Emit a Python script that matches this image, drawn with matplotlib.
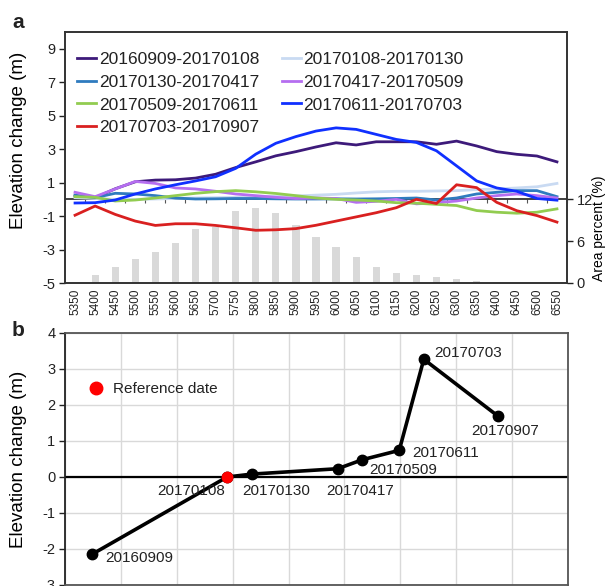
import numpy as np
import pandas as pd
import matplotlib
matplotlib.use("Agg")
import matplotlib.pyplot as plt
from matplotlib.lines import Line2D

plt.rcParams['font.family'] = ['Liberation Sans', 'DejaVu Sans']
plt.rcParams['axes.unicode_minus'] = False
plt.rcParams['text.color'] = '#222222'
plt.rcParams['xtick.color'] = '#222222'
plt.rcParams['ytick.color'] = '#222222'

# ---------------------------------------------------------
# Daten (a): Höhenänderung je Höhenstufe
# ---------------------------------------------------------
elevation = [5350, 5400, 5450, 5500, 5550, 5600, 5650, 5700, 5750, 5800,
             5850, 5900, 5950, 6000, 6050, 6100, 6150, 6200, 6250, 6300,
             6350, 6400, 6450, 6500, 6550]

area_pct = [0.0, 1.2, 2.3, 3.4, 4.5, 5.8, 7.7, 8.1, 10.3, 10.7,
            10.0, 8.3, 6.6, 5.2, 3.7, 2.3, 1.5, 1.1, 0.8, 0.6,
            0.3, 0.2, 0.0, 0.0, 0.0]

dh_0909_0108 = [0.20, 0.10, 0.63, 1.05, 1.15, 1.17, 1.27, 1.50, 1.90, 2.24,
                2.60, 2.85, 3.13, 3.38, 3.25, 3.44, 3.44, 3.44, 3.29, 3.48,
                3.19, 2.85, 2.69, 2.59, 2.24]
dh_0108_0130 = [0.10, 0.05, 0.00, 0.00, 0.02, 0.05, 0.08, 0.10, 0.12, 0.15,
                0.18, 0.20, 0.25, 0.30, 0.38, 0.45, 0.48, 0.48, 0.50, 0.52,
                0.58, 0.62, 0.68, 0.75, 0.95]
dh_0130_0417 = [0.25, 0.10, 0.36, 0.32, 0.22, 0.08, 0.02, 0.03, 0.05, 0.05,
                0.03, 0.02, 0.02, 0.03, 0.02, 0.03, 0.05, 0.08, -0.04, 0.08,
                0.32, 0.42, 0.52, 0.52, 0.16]
dh_0417_0509 = [0.42, 0.16, 0.62, 1.07, 0.95, 0.68, 0.62, 0.48, 0.32, 0.22,
                0.12, 0.05, 0.08, 0.05, -0.18, -0.12, 0.00, -0.27, -0.20, -0.10,
                0.08, 0.22, 0.32, 0.22, 0.08]
dh_0509_0611 = [0.16, 0.12, -0.10, -0.04, 0.08, 0.22, 0.36, 0.46, 0.52, 0.45,
                0.35, 0.22, 0.08, 0.00, -0.04, -0.10, -0.20, -0.23, -0.30, -0.37,
                -0.67, -0.77, -0.83, -0.77, -0.57]
dh_0611_0703 = [-0.22, -0.20, -0.04, 0.32, 0.62, 0.87, 1.10, 1.35, 1.85, 2.70,
                3.35, 3.75, 4.08, 4.27, 4.18, 3.88, 3.58, 3.40, 2.90, 2.00,
                1.10, 0.68, 0.48, 0.05, -0.05]
dh_0703_0907 = [-0.95, -0.40, -0.90, -1.30, -1.56, -1.46, -1.46, -1.56, -1.70, -1.85,
                -1.82, -1.75, -1.55, -1.30, -1.05, -0.80, -0.50, 0.00, -0.25, 0.87,
                0.70, -0.18, -0.68, -0.97, -1.36]

series = [dh_0909_0108, dh_0108_0130, dh_0130_0417, dh_0417_0509,
          dh_0509_0611, dh_0611_0703, dh_0703_0907]
series_labels = ["20160909-20170108", "20170108-20170130", "20170130-20170417",
                 "20170417-20170509", "20170509-20170611", "20170611-20170703",
                 "20170703-20170907"]
series_colors = ["#3d1a7a", "#c9daf2", "#2f7bbf", "#b56ef0",
                 "#92cc50", "#1030ff", "#d92020"]

# ---------------------------------------------------------
# Daten (b): kumulierte Höhenänderung
# ---------------------------------------------------------
dates = ["20160909", "20170108", "20170130", "20170417",
         "20170509", "20170611", "20170703", "20170907"]
cum_dh = [-2.15, 0.0, 0.08, 0.23, 0.48, 0.74, 3.27, 1.70]
ref_date = "20170108"

# Beschriftungs-Versatz (Pixel) und Ausrichtung je Punkt
label_offsets = {
    "20160909": (13, -4, "left"),
    "20170108": (-2, -14, "right"),
    "20170130": (-9, -17, "left"),
    "20170417": (-11, -22, "left"),
    "20170509": (7, -10, "left"),
    "20170611": (13, -3, "left"),
    "20170703": (10, 6, "left"),
    "20170907": (8, -15, "center"),
}

W, H = 608, 586
fig = plt.figure(figsize=(W / 100, H / 100), dpi=100)

# ---------------------------------------------------------
# Panel a
# ---------------------------------------------------------
ax = fig.add_axes([65 / W, 1 - 283 / H, 502 / W, 251 / H])
ax2 = ax.twinx()
x = np.arange(len(elevation))

ax2.bar(x, area_pct, width=0.36, color="#d9d9d9", zorder=1)
ax2.set_ylim(0, 36)
ax2.set_yticks([0, 6, 12])
ax2.tick_params(axis="y", labelsize=10.5, length=4, width=1, pad=3)
ax2.set_ylabel("Area percent (%)", fontsize=10, rotation=90)
ax2.yaxis.set_label_coords(1.05, 0.22)

ax.set_zorder(ax2.get_zorder() + 1)
ax.patch.set_visible(False)

ax.axhline(0, color="#333333", lw=1.3, zorder=1)
for vals, col, lab in zip(series, series_colors, series_labels):
    ax.plot(x, vals, color=col, lw=2.0, label=lab, solid_joinstyle="round")

ax.set_xlim(-0.5, len(elevation) - 0.5)
ax.set_ylim(-5, 10)
ax.set_yticks(np.arange(-5, 10, 2))
ax.set_xticks(x)
ax.set_xticklabels(elevation, rotation=90, fontsize=8.5)
ax.tick_params(axis="x", length=0, pad=4)
ax.tick_params(axis="y", labelsize=10.5, length=4, width=1, pad=3)
ax.set_ylabel("Elevation change (m)", fontsize=13.5)
ax.yaxis.set_label_coords(-0.075, 0.57)

# kleine Striche an der Nulllinie zwischen den Höhenstufen
zero_ax = ax.secondary_xaxis(1 / 3)
zero_ax.set_xticks(np.arange(-0.5, len(elevation), 1))
zero_ax.tick_params(axis="x", length=3, width=0.8, labelbottom=False,
                    labeltop=False, color="#555555")
zero_ax.spines["bottom"].set_visible(False)
zero_ax.spines["top"].set_visible(False)

for a in (ax, ax2):
    for s in a.spines.values():
        s.set_color("#333333")
        s.set_linewidth(1.2)

h, l = ax.get_legend_handles_labels()
order = [0, 2, 4, 6, 1, 3, 5]
ax.legend([h[i] for i in order], [l[i] for i in order], ncol=2,
          loc="upper left", bbox_to_anchor=(0.0, 0.968), frameon=False,
          fontsize=12.5, handlelength=1.1, handletextpad=0.15,
          columnspacing=1.3, labelspacing=0.43, borderaxespad=0.3)

fig.text(12 / W, 1 - 28 / H, "a", fontsize=15, fontweight="bold")

# ---------------------------------------------------------
# Panel b
# ---------------------------------------------------------
bx = fig.add_axes([65 / W, 1 - 585 / H, 503 / W, 252 / H])
t = pd.to_datetime(dates, format="%Y%m%d")
t0 = pd.Timestamp("2016-08-16")
grid_days = [t0 + pd.Timedelta(days=50 * k) for k in range(10)]

bx.set_xlim(grid_days[0], grid_days[-1])
bx.set_ylim(-3, 4)
bx.set_xticks(grid_days)
bx.set_yticks(np.arange(-3, 5, 1))
bx.tick_params(axis="x", length=0, labelbottom=False)
bx.tick_params(axis="y", labelsize=10.5, length=4, width=1, pad=3)
bx.grid(True, color="#d9d9d9", lw=1.0)
bx.set_axisbelow(True)
bx.axhline(0, color="black", lw=1.6, zorder=2)

bx.plot(t, cum_dh, color="black", lw=2.6, marker="o", ms=7.5, zorder=3)
ri = dates.index(ref_date)
bx.plot(t[ri], cum_dh[ri], "o", color="red", ms=7.5, zorder=4)

for d, tt, v in zip(dates, t, cum_dh):
    dx, dy, ha = label_offsets[d]
    bx.annotate(d, (tt, v), xytext=(dx, dy), textcoords="offset pixels",
                ha=ha, va="center", fontsize=11, color="#222222")

ref_handle = Line2D([], [], marker="o", ls="none", color="red", ms=9)
bx.legend([ref_handle], ["Reference date"], loc="upper left",
          bbox_to_anchor=(0.02, 0.86), frameon=False, fontsize=11,
          handlelength=1.0, handletextpad=0.6)

bx.set_ylabel("Elevation change (m)", fontsize=13.5)
bx.yaxis.set_label_coords(-0.075, 0.5)
for side, s in bx.spines.items():
    s.set_color("#222222" if side == "left" else "#555555")
    s.set_linewidth(1.3)

fig.text(12 / W, 1 - 336 / H, "b", fontsize=15, fontweight="bold")

fig.savefig("out.png", dpi=100)
